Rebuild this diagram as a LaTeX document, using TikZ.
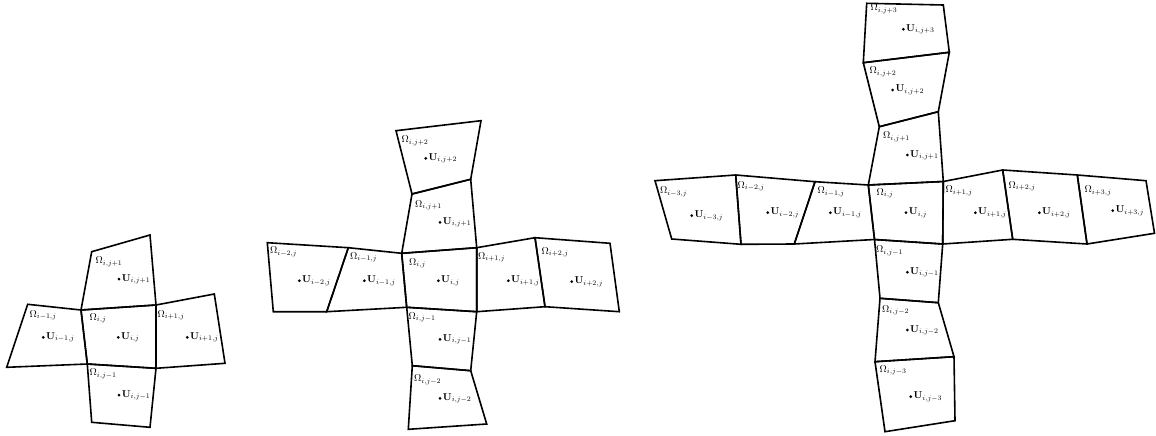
\documentclass[tikz,border=0pt]{standalone}
\usetikzlibrary{positioning}
\begin{document}
\begin{tikzpicture}[x=1pt,y=-1pt,
  cell/.style={draw=black,line width=1.6pt,line join=miter},
  om/.style={anchor=west,inner sep=0pt,font=\fontsize{10}{11}\selectfont},
  udot/.style={circle,fill=black,inner sep=0pt,minimum size=3pt},
  ulab/.style={inner sep=0pt,font=\fontsize{10}{11}\selectfont}]
\useasboundingbox (0,0) rectangle (1156,436);
% ---------------- left stencil ----------------
\coordinate (L1) at (91.7,251.7);
\coordinate (L2) at (150,235);
\coordinate (L3) at (156,305);
\coordinate (L4) at (81,310);
\coordinate (L5) at (156,368.3);
\coordinate (L6) at (87.3,364);
\coordinate (L7) at (27.7,304.3);
\coordinate (L8) at (6.7,367.3);
\coordinate (L9) at (214.3,294);
\coordinate (L10) at (225,363.3);
\coordinate (L11) at (150,427.3);
\coordinate (L12) at (91.7,422.3);
\draw[cell] (L1) -- (L2) -- (L3) -- (L4) -- cycle;
\draw[cell] (L4) -- (L3) -- (L5) -- (L6) -- cycle;
\draw[cell] (L7) -- (L4) -- (L6) -- (L8) -- cycle;
\draw[cell] (L3) -- (L9) -- (L10) -- (L5) -- cycle;
\draw[cell] (L6) -- (L5) -- (L11) -- (L12) -- cycle;
\node[om] (oLt) at (95.5,262) {$\Omega_{i,j+1}$};
\node[udot] (dLt) at (119,279) {};
\node[ulab,right=1pt of dLt] (uLt) {$\mathbf{U}_{i,j+1}$};
\node[om] (oLl) at (29.5,315.5) {$\Omega_{i-1,j}$};
\node[udot] (dLl) at (43.3,337.3) {};
\node[ulab,right=1pt of dLl] (uLl) {$\mathbf{U}_{i-1,j}$};
\node[om] (oLc) at (89.5,318.5) {$\Omega_{i,j}$};
\node[udot] (dLc) at (118.3,337.3) {};
\node[ulab,right=1pt of dLc] (uLc) {$\mathbf{U}_{i,j}$};
\node[om] (oLr) at (157.5,315.5) {$\Omega_{i+1,j}$};
\node[udot] (dLr) at (187.3,337.3) {};
\node[ulab,right=1pt of dLr] (uLr) {$\mathbf{U}_{i+1,j}$};
\node[om] (oLb) at (89.5,374) {$\Omega_{i,j-1}$};
\node[udot] (dLb) at (119,395) {};
\node[ulab,right=1pt of dLb] (uLb) {$\mathbf{U}_{i,j-1}$};
% ---------------- middle stencil ----------------
\coordinate (M1) at (396,130.7);
\coordinate (M2) at (481,120.7);
\coordinate (M3) at (470.7,179.3);
\coordinate (M4) at (412,194);
\coordinate (M5) at (476.7,247.7);
\coordinate (M6) at (401.7,253.3);
\coordinate (M7) at (476.7,311.7);
\coordinate (M8) at (406.7,307.3);
\coordinate (M9) at (348.3,247.7);
\coordinate (M10) at (326.7,311.7);
\coordinate (M11) at (267.3,242.7);
\coordinate (M12) at (273.3,311.7);
\coordinate (M13) at (535,237.7);
\coordinate (M14) at (545,306.7);
\coordinate (M15) at (610,243.3);
\coordinate (M16) at (619.3,311.7);
\coordinate (M17) at (470.7,370.7);
\coordinate (M18) at (412.3,365.7);
\coordinate (M19) at (486.7,424);
\coordinate (M20) at (408.3,429.3);
\draw[cell] (M1) -- (M2) -- (M3) -- (M4) -- cycle;
\draw[cell] (M4) -- (M3) -- (M5) -- (M6) -- cycle;
\draw[cell] (M6) -- (M5) -- (M7) -- (M8) -- cycle;
\draw[cell] (M9) -- (M6) -- (M8) -- (M10) -- cycle;
\draw[cell] (M11) -- (M9) -- (M10) -- (M12) -- cycle;
\draw[cell] (M5) -- (M13) -- (M14) -- (M7) -- cycle;
\draw[cell] (M13) -- (M15) -- (M16) -- (M14) -- cycle;
\draw[cell] (M8) -- (M7) -- (M17) -- (M18) -- cycle;
\draw[cell] (M18) -- (M17) -- (M19) -- (M20) -- cycle;
\node[om] (oMa) at (401.5,141) {$\Omega_{i,j+2}$};
\node[udot] (dMa) at (425.7,158.3) {};
\node[ulab,right=1pt of dMa] (uMa) {$\mathbf{U}_{i,j+2}$};
\node[om] (oMb) at (415,205.5) {$\Omega_{i,j+1}$};
\node[udot] (dMb) at (440,222.3) {};
\node[ulab,right=1pt of dMb] (uMb) {$\mathbf{U}_{i,j+1}$};
\node[om] (oMc) at (270,252) {$\Omega_{i-2,j}$};
\node[udot] (dMc) at (299.3,280.7) {};
\node[ulab,right=1pt of dMc] (uMc) {$\mathbf{U}_{i-2,j}$};
\node[om] (oMd) at (350,257.5) {$\Omega_{i-1,j}$};
\node[udot] (dMd) at (364.3,280.7) {};
\node[ulab,right=1pt of dMd] (uMd) {$\mathbf{U}_{i-1,j}$};
\node[om] (oMe) at (409,263.5) {$\Omega_{i,j}$};
\node[udot] (dMe) at (438.3,280.7) {};
\node[ulab,right=1pt of dMe] (uMe) {$\mathbf{U}_{i,j}$};
\node[om] (oMf) at (478,257.5) {$\Omega_{i+1,j}$};
\node[udot] (dMf) at (508.3,280.7) {};
\node[ulab,right=1pt of dMf] (uMf) {$\mathbf{U}_{i+1,j}$};
\node[om] (oMg) at (541.5,252.5) {$\Omega_{i+2,j}$};
\node[udot] (dMg) at (571.7,281.7) {};
\node[ulab,right=1pt of dMg] (uMg) {$\mathbf{U}_{i+2,j}$};
\node[om] (oMh) at (408.5,317.5) {$\Omega_{i,j-1}$};
\node[udot] (dMh) at (440,339.3) {};
\node[ulab,right=1pt of dMh] (uMh) {$\mathbf{U}_{i,j-1}$};
\node[om] (oMi) at (414,380) {$\Omega_{i,j-2}$};
\node[udot] (dMi) at (440,398.3) {};
\node[ulab,right=1pt of dMi] (uMi) {$\mathbf{U}_{i,j-2}$};
% ---------------- right stencil ----------------
\coordinate (R1) at (866.7,3.3);
\coordinate (R2) at (943.3,5);
\coordinate (R3) at (949.3,52.3);
\coordinate (R4) at (863.3,62.7);
\coordinate (R5) at (938.3,111.7);
\coordinate (R6) at (879.3,126.7);
\coordinate (R7) at (943.3,181.5);
\coordinate (R8) at (868.3,185);
\coordinate (R9) at (942.7,244);
\coordinate (R10) at (874.5,239.5);
\coordinate (R11) at (815,181.7);
\coordinate (R12) at (794.3,244);
\coordinate (R13) at (735.7,175);
\coordinate (R14) at (741,244.3);
\coordinate (R15) at (655,180.7);
\coordinate (R16) at (671.7,239);
\coordinate (R17) at (1002.7,170);
\coordinate (R18) at (1012.7,239.3);
\coordinate (R19) at (1077.3,175);
\coordinate (R20) at (1087,244);
\coordinate (R21) at (1146,180.7);
\coordinate (R22) at (1154.5,233.3);
\coordinate (R23) at (938.3,302.7);
\coordinate (R24) at (880,298.3);
\coordinate (R25) at (954,356.7);
\coordinate (R26) at (875,361.7);
\coordinate (R27) at (955,420.7);
\coordinate (R28) at (885,431.7);
\draw[cell] (R1) -- (R2) -- (R3) -- (R4) -- cycle;
\draw[cell] (R4) -- (R3) -- (R5) -- (R6) -- cycle;
\draw[cell] (R6) -- (R5) -- (R7) -- (R8) -- cycle;
\draw[cell] (R8) -- (R7) -- (R9) -- (R10) -- cycle;
\draw[cell] (R11) -- (R8) -- (R10) -- (R12) -- cycle;
\draw[cell] (R13) -- (R11) -- (R12) -- (R14) -- cycle;
\draw[cell] (R15) -- (R13) -- (R14) -- (R16) -- cycle;
\draw[cell] (R7) -- (R17) -- (R18) -- (R9) -- cycle;
\draw[cell] (R17) -- (R19) -- (R20) -- (R18) -- cycle;
\draw[cell] (R19) -- (R21) -- (R22) -- (R20) -- cycle;
\draw[cell] (R10) -- (R9) -- (R23) -- (R24) -- cycle;
\draw[cell] (R24) -- (R23) -- (R25) -- (R26) -- cycle;
\draw[cell] (R26) -- (R25) -- (R27) -- (R28) -- cycle;
\node[om] (oRa) at (870.5,9) {$\Omega_{i,j+3}$};
\node[udot] (dRa) at (903.3,29.3) {};
\node[ulab,right=1pt of dRa] (uRa) {$\mathbf{U}_{i,j+3}$};
\node[om] (oRb) at (869.5,72) {$\Omega_{i,j+2}$};
\node[udot] (dRb) at (892.7,90) {};
\node[ulab,right=1pt of dRb] (uRb) {$\mathbf{U}_{i,j+2}$};
\node[om] (oRc) at (883,137) {$\Omega_{i,j+1}$};
\node[udot] (dRc) at (907.3,155) {};
\node[ulab,right=1pt of dRc] (uRc) {$\mathbf{U}_{i,j+1}$};
\node[om] (oRd) at (660,192) {$\Omega_{i-3,j}$};
\node[udot] (dRd) at (691.7,215.7) {};
\node[ulab,right=1pt of dRd] (uRd) {$\mathbf{U}_{i-3,j}$};
\node[om] (oRe) at (737.5,186.5) {$\Omega_{i-2,j}$};
\node[udot] (dRe) at (767.7,212.7) {};
\node[ulab,right=1pt of dRe] (uRe) {$\mathbf{U}_{i-2,j}$};
\node[om] (oRf) at (817.5,192) {$\Omega_{i-1,j}$};
\node[udot] (dRf) at (830.3,212.7) {};
\node[ulab,right=1pt of dRf] (uRf) {$\mathbf{U}_{i-1,j}$};
\node[om] (oRg) at (876.5,193.5) {$\Omega_{i,j}$};
\node[udot] (dRg) at (906,212.7) {};
\node[ulab,right=1pt of dRg] (uRg) {$\mathbf{U}_{i,j}$};
\node[om] (oRh) at (945.5,191) {$\Omega_{i+1,j}$};
\node[udot] (dRh) at (975.3,212.7) {};
\node[ulab,right=1pt of dRh] (uRh) {$\mathbf{U}_{i+1,j}$};
\node[om] (oRi) at (1008.5,186.5) {$\Omega_{i+2,j}$};
\node[udot] (dRi) at (1039.3,212.7) {};
\node[ulab,right=1pt of dRi] (uRi) {$\mathbf{U}_{i+2,j}$};
\node[om] (oRj) at (1084.5,191) {$\Omega_{i+3,j}$};
\node[udot] (dRj) at (1112.7,210.7) {};
\node[ulab,right=1pt of dRj] (uRj) {$\mathbf{U}_{i+3,j}$};
\node[om] (oRk) at (876,251) {$\Omega_{i,j-1}$};
\node[udot] (dRk) at (907.3,272.3) {};
\node[ulab,right=1pt of dRk] (uRk) {$\mathbf{U}_{i,j-1}$};
\node[om] (oRl) at (882,310.5) {$\Omega_{i,j-2}$};
\node[udot] (dRl) at (907.3,330) {};
\node[ulab,right=1pt of dRl] (uRl) {$\mathbf{U}_{i,j-2}$};
\node[om] (oRm) at (879.5,370.5) {$\Omega_{i,j-3}$};
\node[udot] (dRm) at (910.7,396.7) {};
\node[ulab,right=1pt of dRm] (uRm) {$\mathbf{U}_{i,j-3}$};
\end{tikzpicture}
\end{document}
